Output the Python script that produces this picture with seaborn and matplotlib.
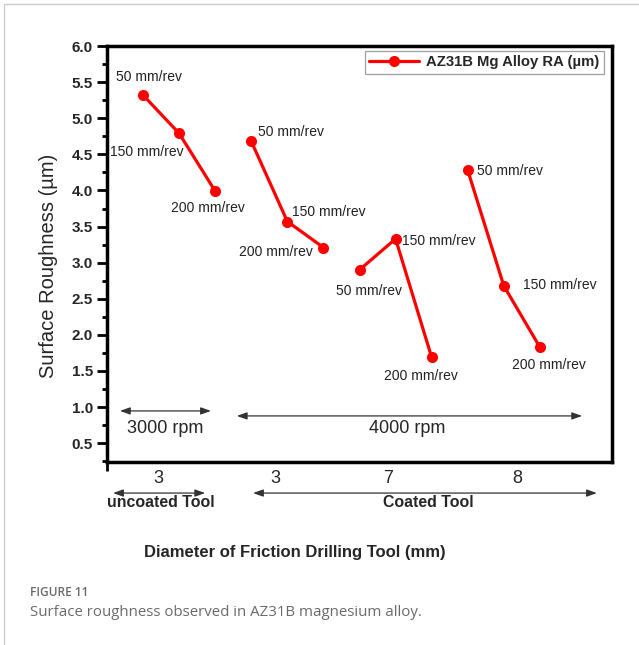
import matplotlib
matplotlib.use("Agg")
import matplotlib.pyplot as plt
from matplotlib.lines import Line2D
import seaborn as sns
import pandas as pd

# ---- data -------------------------------------------------------------
groups = ["uncoated 3", "uncoated 3", "uncoated 3",
          "coated 3", "coated 3", "coated 3",
          "coated 7", "coated 7", "coated 7",
          "coated 8", "coated 8", "coated 8"]
feeds = ["50 mm/rev", "150 mm/rev", "200 mm/rev"] * 4
roughness = [5.32, 4.79, 3.99,
             4.68, 3.57, 3.21,
             2.90, 3.33, 1.69,
             4.28, 2.68, 1.83]
position = list(range(1, 13))

diameter_labels = ["3", "3", "7", "8"]
diameter_positions = [1.42, 4.67, 7.8, 11.36]
y_ticks = [0.5, 1.0, 1.5, 2.0, 2.5, 3.0, 3.5, 4.0, 4.5, 5.0, 5.5, 6.0]

series_name = "AZ31B Mg Alloy RA (\u00b5m)"

df = pd.DataFrame({"pos": position, "Ra": roughness,
                   "group": groups, "feed": feeds,
                   "series": series_name})

# label offsets (pixels) and alignment for each feed annotation
label_offsets = [(6, 18, "center"), (-32, -19, "center"), (-7, -17, "center"),
                 (7, 9, "left"), (5, 9, "left"), (-11, -4, "right"),
                 (10, -21, "center"), (6, -2, "left"), (-11, -19, "center"),
                 (9, -1, "left"), (19, 1, "left"), (9, -18, "center")]

# ---- styling ----------------------------------------------------------
sns.set_theme(style="white")
plt.rcParams["font.family"] = ["Liberation Sans", "DejaVu Sans"]

fig = plt.figure(figsize=(6.39, 6.45), dpi=100)
W, H = 639, 645
ax = fig.add_axes([107 / W, 1 - 462 / H, (612 - 107) / W, (462 - 46) / H])

sns.lineplot(data=df, x="pos", y="Ra", units="group", estimator=None,
             hue="series", palette=["#ff0000"], marker="o", markersize=8,
             markeredgewidth=0, linewidth=2.3, ax=ax, legend=False)

ax.set_xlim(0, 14)
ax.set_ylim(0.24, 6.0)

# y axis ticks
ax.set_yticks(y_ticks)
ax.set_yticklabels([f"{v:.1f}" for v in y_ticks], fontweight="bold", fontsize=11)
ax.set_yticks([v + 0.25 for v in y_ticks[:-1]] + [0.25], minor=True)
ax.tick_params(axis="y", which="major", direction="out", length=7, width=2,
               color="black", left=True, pad=3)
ax.tick_params(axis="y", which="minor", direction="out", length=3.5, width=2,
               color="black", left=True)

# x axis: diameter labels
ax.set_xticks(diameter_positions)
ax.set_xticklabels(diameter_labels, fontsize=13)
ax.set_xticks([0], minor=True)
ax.tick_params(axis="x", which="major", length=0, pad=6)
ax.tick_params(axis="x", which="minor", direction="out", length=6.5, width=2,
               color="black", bottom=True)

for s in ax.spines.values():
    s.set_visible(True)
    s.set_color("black")
    s.set_linewidth(2.5)

ax.set_xlabel("")
ax.set_ylabel("Surface Roughness (\u00b5m)", fontsize=14.5)
ax.yaxis.set_label_coords(-0.097, 0.471)

# feed annotations
for x, y, txt, (dx, dy, ha) in zip(position, roughness, feeds, label_offsets):
    ax.annotate(txt, (x, y), xytext=(dx, dy), textcoords="offset pixels",
                ha=ha, va="center", fontsize=10, color="#222222")

# spindle speed spans
arrow_kw = dict(arrowstyle="<|-|>,head_length=0.5,head_width=0.18",
                color="#333333", lw=0.9, mutation_scale=12,
                shrinkA=0, shrinkB=0)
ax.annotate("", xy=(0.36, 0.947), xytext=(2.88, 0.947), arrowprops=arrow_kw)
ax.text(1.61, 0.71, "3000 rpm", ha="center", va="center", fontsize=13)
ax.annotate("", xy=(3.6, 0.878), xytext=(13.17, 0.878), arrowprops=arrow_kw)
ax.text(8.32, 0.70, "4000 rpm", ha="center", va="center", fontsize=13)

# tool type spans below the axis
ax.annotate("", xy=(0.17, -0.19), xytext=(2.72, -0.19), arrowprops=arrow_kw,
            annotation_clip=False)
ax.annotate("", xy=(4.05, -0.19), xytext=(13.58, -0.19), arrowprops=arrow_kw,
            annotation_clip=False)
ax.text(1.5, -0.315, "uncoated Tool", ha="center", va="center", fontsize=11.4,
        fontweight="bold", clip_on=False)
ax.text(8.9, -0.315, "Coated Tool", ha="center", va="center", fontsize=11.4,
        fontweight="bold", clip_on=False)

fig.text(295 / W, 1 - 553 / H, "Diameter of Friction Drilling Tool (mm)",
         ha="center", va="center", fontsize=12, fontweight="bold")

# legend
handle = Line2D([], [], color="#ff0000", marker="o", markersize=8,
                markeredgewidth=0, linewidth=2.3)
leg = ax.legend([handle], [series_name], loc="upper right",
                bbox_to_anchor=(0.984, 0.988), borderaxespad=0,
                frameon=True, fancybox=False, handlelength=3.3,
                prop={"weight": "bold", "size": 10.75}, borderpad=0.3,
                handletextpad=0.5)
leg.get_frame().set_edgecolor("#888888")
leg.get_frame().set_linewidth(0.9)

# caption
fig.text(30 / W, 1 - 592 / H, "FIGURE 11", fontsize=8.6, color="#6a6a6a",
         family=["Open Sans", "DejaVu Sans"], fontweight="semibold",
         ha="left", va="center")
fig.text(30 / W, 1 - 612 / H,
         "Surface roughness observed in AZ31B magnesium alloy.",
         fontsize=10.8, color="#6a6a6a", family=["Open Sans", "DejaVu Sans"],
         ha="left", va="center")

# page frame
fig.add_artist(Line2D([4 / W, 4 / W], [0, 1 - 4 / H], color="#cccccc",
                      lw=1, transform=fig.transFigure))
fig.add_artist(Line2D([4 / W, 1], [1 - 4 / H, 1 - 4 / H], color="#cccccc",
                      lw=1, transform=fig.transFigure))

fig.savefig("out.png", dpi=100, facecolor="white")
